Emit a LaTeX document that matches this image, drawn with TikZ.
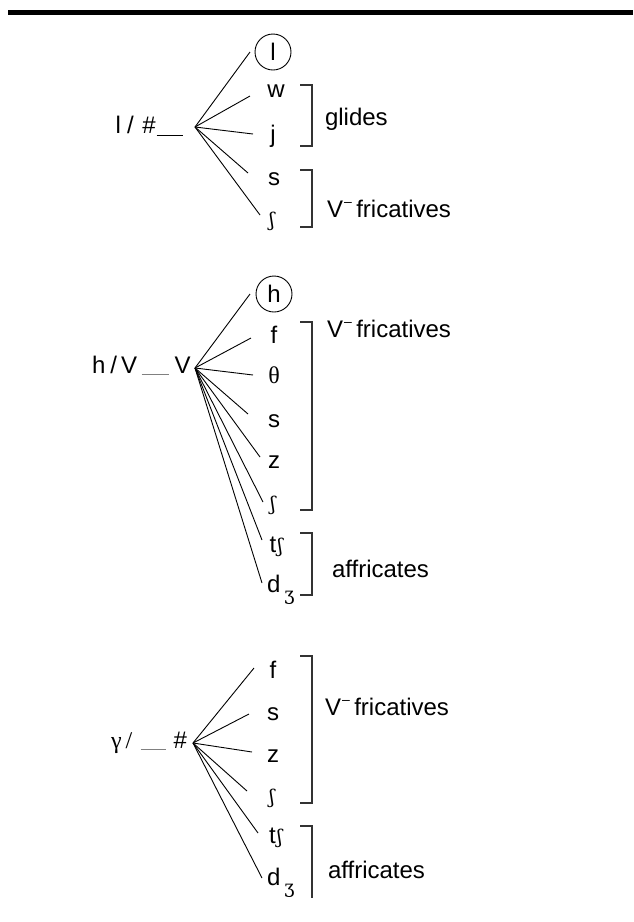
\documentclass[tikz,border=0pt]{standalone}
\usepackage{fontspec}
\setmainfont{Liberation Sans}
\newfontfamily\serifg{Liberation Serif}
\newfontfamily\ipaf{DejaVu Serif}
\newcommand\myesh{{\ipaf\fontsize{19}{19}\selectfont ʃ}}
\newcommand\myezh{{\ipaf\fontsize{18}{18}\selectfont ʒ}}
\newcommand\vminus{V\hspace{1pt}\raisebox{11pt}{\fontsize{14}{14}\selectfont –}\hspace{4.5pt}}
\begin{document}
\begin{tikzpicture}[x=1pt,y=-1pt,
  every node/.style={inner sep=0pt, outer sep=0pt, font=\fontsize{24}{28}\selectfont},
  seg/.style={line width=0.9pt, black},
  brk/.style={line width=1.1pt, black!80},
  phon/.style={anchor=base},
  lbl/.style={anchor=base west},
  circ/.style={draw, circle, minimum size=36pt, line width=0.9pt}]

\useasboundingbox (0,0) rectangle (633,922);
\fill[black] (8,9.5) rectangle (633,14.5);

% ---------- Section 1 ----------
\coordinate (A1) at (195,127);
\node[lbl] (lab1) at (115.5,133) {l\hspace{6.3pt}/\hspace{8.5pt}\#\hspace{1pt}\rule[-2.5pt]{26pt}{1pt}};
\node[circ] (c1) at (273,52) {l};
\node[phon] (w1) at (276,97) {w};
\node[phon] (j1) at (273,142) {j};
\node[phon] (s1) at (274,185) {s};
\node[phon] (sh1) at (272,226) {\myesh};
\coordinate (e1a) at (250,52);
\coordinate (e1b) at (250,96);
\coordinate (e1c) at (253,134);
\coordinate (e1d) at (248,173);
\coordinate (e1e) at (260,215);
\foreach \e in {e1a,e1b,e1c,e1d,e1e} \draw[seg] (A1) -- (\e);
\draw[brk] (300,85) -- (312,85) -- (312,146) -- (300,146);
\draw[brk] (300,170) -- (312,170) -- (312,227) -- (300,227);
\node[lbl] (g1) at (325,125) {glides};
\node[lbl] (fr1) at (327,217) {\vminus fricatives};

% ---------- Section 2 ----------
\coordinate (A2) at (195,368);
\node[lbl] (lab2) at (92,373) {h\hspace{5pt}/\hspace{4pt}V\hspace{4.5pt}\textcolor{gray}{\rule[-2pt]{27pt}{0.8pt}}\hspace{6pt}V};
\node[circ] (c2) at (274,294) {h};
\node[phon] (f2) at (274,343) {f};
\node[phon] (th2) at (274,383) {\serifg θ};
\node[phon] (s2) at (274,427) {s};
\node[phon] (z2) at (274,468) {z};
\node[phon] (sh2) at (273,510) {\myesh};
\node[lbl] (tsh2) at (269.5,552) {t\hspace{1.5pt}\myesh};
\node[lbl] (dzh2) at (267,592) {d\hspace{4pt}\raisebox{-8pt}{\myezh}};
\coordinate (e2a) at (250,294);
\coordinate (e2b) at (251,338);
\coordinate (e2c) at (253,375);
\coordinate (e2d) at (248,414);
\coordinate (e2e) at (260,457);
\coordinate (e2f) at (263,502);
\coordinate (e2g) at (262,540);
\coordinate (e2h) at (262,583);
\foreach \e in {e2a,e2b,e2c,e2d,e2e,e2f,e2g,e2h} \draw[seg] (A2) -- (\e);
\draw[brk] (300,322) -- (312,322) -- (312,510) -- (300,510);
\draw[brk] (300,533) -- (312,533) -- (312,595) -- (300,595);
\node[lbl] (fr2) at (327,337) {\vminus fricatives};
\node[lbl] (af2) at (332,577) {affricates};

% ---------- Section 3 ----------
\coordinate (A3) at (193,743);
\node[lbl] (lab3) at (111,748) {{\serifg γ\hspace{4pt}/}\hspace{8.3pt}\textcolor{gray}{\rule[-2pt]{25pt}{0.8pt}}\hspace{8pt}\#};
\node[phon] (f3) at (273,678) {f};
\node[phon] (s3) at (273,720) {s};
\node[phon] (z3) at (273,762) {z};
\node[phon] (sh3) at (272,803) {\myesh};
\node[lbl] (tsh3) at (269,843) {t\hspace{1.5pt}\myesh};
\node[lbl] (dzh3) at (267,885) {d\hspace{4pt}\raisebox{-8pt}{\myezh}};
\coordinate (e3a) at (254,668);
\coordinate (e3b) at (249,714);
\coordinate (e3c) at (252,752);
\coordinate (e3d) at (247,791);
\coordinate (e3e) at (258,833);
\coordinate (e3f) at (262,878);
\foreach \e in {e3a,e3b,e3c,e3d,e3e,e3f} \draw[seg] (A3) -- (\e);
\draw[brk] (300,656) -- (312,656) -- (312,803) -- (300,803);
\draw[brk] (300,826) -- (312,826) -- (312,898);
\node[lbl] (fr3) at (325,715) {\vminus fricatives};
\node[lbl] (af3) at (328,878) {affricates};
\end{tikzpicture}
\end{document}
